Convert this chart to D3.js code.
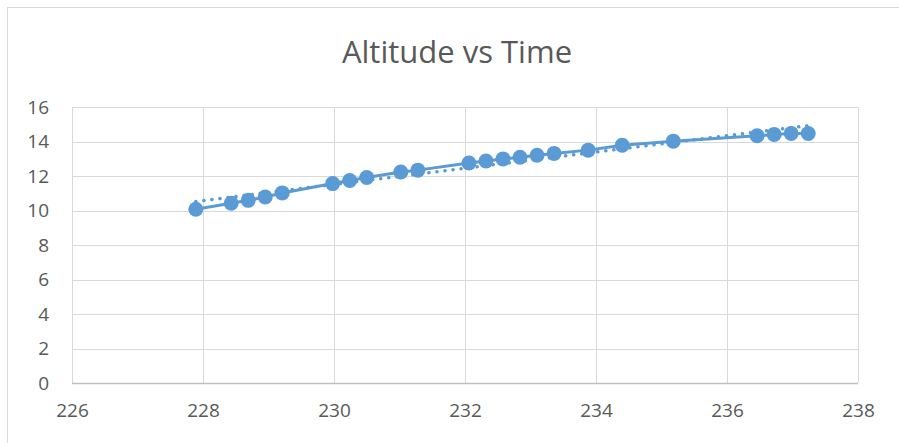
<!DOCTYPE html>
<html>
<head>
<meta charset="utf-8">
<script src="https://cdn.jsdelivr.net/npm/d3@7"></script>
<style>
  html, body { margin: 0; padding: 0; background: #fff; }
  svg { display: block; }
</style>
</head>
<body>
<svg id="chart" width="899" height="443"></svg>
<script>
const title = "Altitude vs Time";
const timeValues = [227.89, 228.43, 228.69, 228.95, 229.21, 229.98, 230.24, 230.50, 231.02, 231.28,
  232.06, 232.32, 232.58, 232.84, 233.10, 233.36, 233.88, 234.40, 235.18, 236.46, 236.72, 236.98, 237.24];
const altitudeValues = [10.07, 10.42, 10.59, 10.78, 11.02, 11.56, 11.74, 11.91, 12.23, 12.34,
  12.75, 12.87, 12.99, 13.09, 13.20, 13.31, 13.50, 13.78, 14.02, 14.33, 14.41, 14.47, 14.46];
const xTicks = [226, 228, 230, 232, 234, 236, 238];
const yTicks = [0, 2, 4, 6, 8, 10, 12, 14, 16];

(function () {
const svg = d3.select("#chart");
const W = 899, H = 443;
const pLeft = 72, pRight = 858, pTop = 107, pBottom = 383;
const color = "#5b9bd5";
const font = "'Open Sans', 'Liberation Sans', Arial, sans-serif";

// chart border
svg.append("rect").attr("x", 7.5).attr("y", 7.5).attr("width", W + 10).attr("height", H + 10)
  .attr("fill", "#fff").attr("stroke", "#d9d9d9").attr("stroke-width", 1);

const x = d3.scaleLinear().domain([226, 238]).range([pLeft, pRight]);
const y = d3.scaleLinear().domain([0, 16]).range([pBottom, pTop]);

// gridlines
svg.append("g").selectAll("line").data(yTicks.filter(d => d !== 0)).join("line")
  .attr("x1", pLeft).attr("x2", pRight)
  .attr("y1", d => Math.round(y(d)) + 0.5).attr("y2", d => Math.round(y(d)) + 0.5)
  .attr("stroke", "#d9d9d9").attr("stroke-width", 1);
svg.append("g").selectAll("line").data(xTicks).join("line")
  .attr("y1", pTop).attr("y2", pBottom)
  .attr("x1", d => Math.round(x(d)) + 0.5).attr("x2", d => Math.round(x(d)) + 0.5)
  .attr("stroke", "#d9d9d9").attr("stroke-width", 1);
// x axis line
svg.append("line").attr("x1", pLeft).attr("x2", pRight)
  .attr("y1", pBottom + 0.5).attr("y2", pBottom + 0.5)
  .attr("stroke", "#bfbfbf").attr("stroke-width", 1.5);

// axes labels via d3 axes
const xAxis = d3.axisBottom(x).tickValues(xTicks).tickSize(0).tickPadding(0).tickFormat(d3.format("d"));
const gx = svg.append("g").attr("transform", `translate(0,${pBottom + 20})`).call(xAxis);
gx.select(".domain").remove();
gx.selectAll("text").attr("font-family", font).attr("font-size", 19).attr("fill", "#595959")
  .attr("dy", "0.71em");

const yAxis = d3.axisLeft(y).tickValues(yTicks).tickSize(0).tickPadding(0).tickFormat(d3.format("d"));
const gy = svg.append("g").attr("transform", `translate(${pLeft - 23},0)`).call(yAxis);
gy.select(".domain").remove();
gy.selectAll("text").attr("font-family", font).attr("font-size", 19).attr("fill", "#595959");

// title
svg.append("text").attr("x", 457).attr("y", 63).attr("text-anchor", "middle")
  .attr("font-family", font).attr("font-size", 31).attr("fill", "#595959").text(title);

const data = timeValues.map((t, i) => ({ t, a: altitudeValues[i] }));

// series line
const line = d3.line().x(d => x(d.t)).y(d => y(d.a));
svg.append("path").datum(data).attr("d", line).attr("fill", "none")
  .attr("stroke", color).attr("stroke-width", 3).attr("stroke-linejoin", "round");

// markers
svg.append("g").selectAll("circle").data(data).join("circle")
  .attr("cx", d => x(d.t)).attr("cy", d => y(d.a)).attr("r", 7.5).attr("fill", color);

// linear trendline (least squares)
const mx = d3.mean(data, d => d.t), my = d3.mean(data, d => d.a);
const slope = d3.sum(data, d => (d.t - mx) * (d.a - my)) / d3.sum(data, d => (d.t - mx) ** 2);
const icpt = my - slope * mx;
const t0 = d3.min(timeValues), t1 = d3.max(timeValues);
svg.append("line")
  .attr("x1", x(t0)).attr("y1", y(icpt + slope * t0))
  .attr("x2", x(t1)).attr("y2", y(icpt + slope * t1))
  .attr("stroke", color).attr("stroke-width", 3.5)
  .attr("stroke-dasharray", "0.1,8").attr("stroke-linecap", "round");
})();
</script>
</body>
</html>
